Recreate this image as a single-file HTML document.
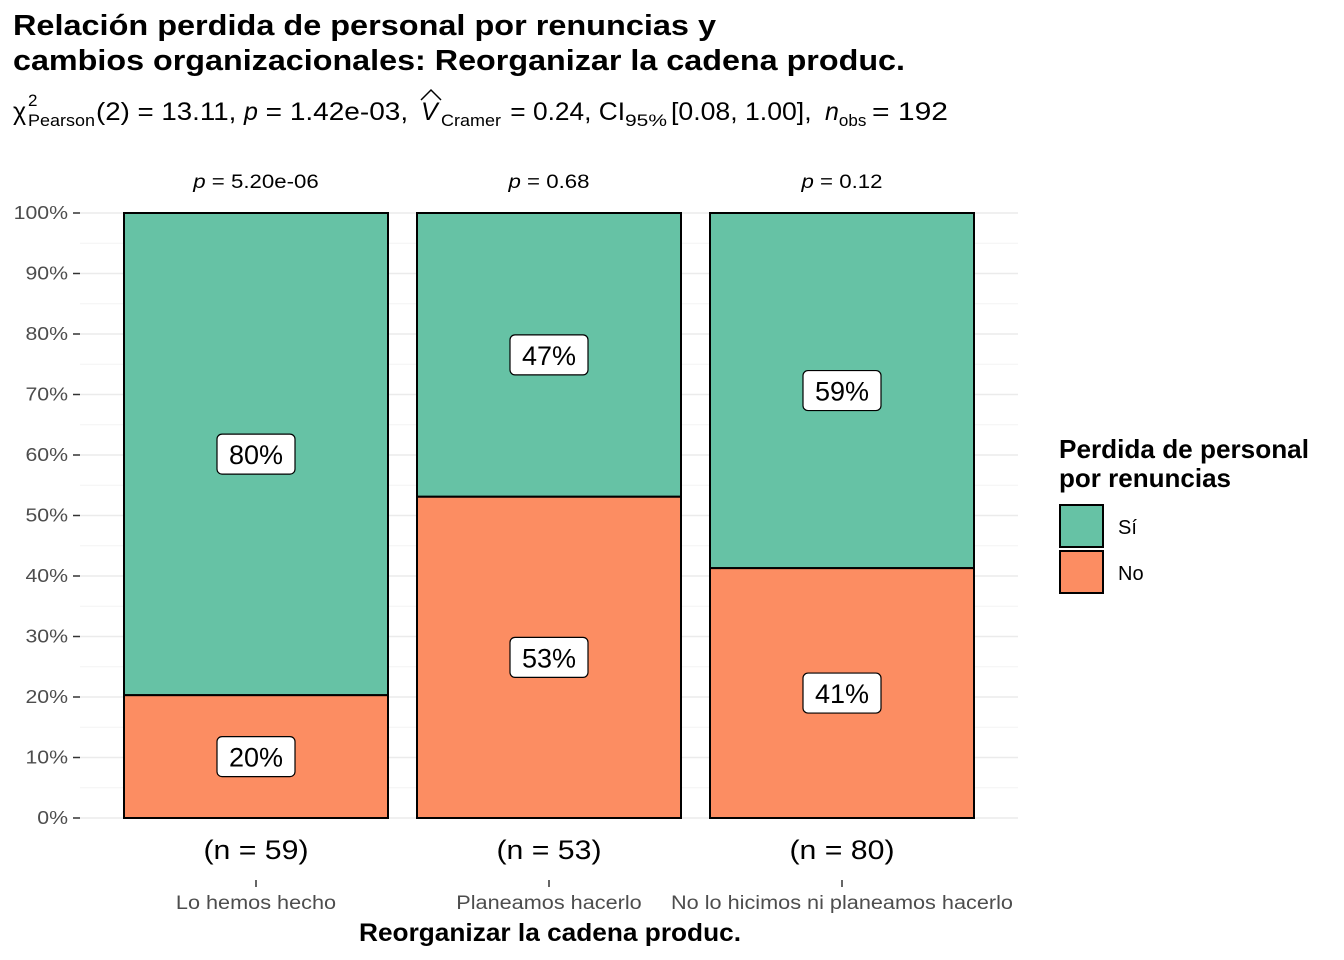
<!DOCTYPE html>
<html><head><meta charset="utf-8"><style>
body{margin:0;background:#fff;}
svg{display:block;font-family:"Liberation Sans",sans-serif;}
</style></head><body>
<svg id="c" width="1344" height="960">
<text x="13" y="35" font-size="29" font-weight="bold" textLength="703" lengthAdjust="spacingAndGlyphs">Relación perdida de personal por renuncias y</text>
<text x="13" y="70" font-size="29" font-weight="bold" textLength="892" lengthAdjust="spacingAndGlyphs">cambios organizacionales: Reorganizar la cadena produc.</text>
<text x="13" y="120" font-size="25">χ<tspan font-size="17" x="28" dy="-14">2</tspan><tspan font-size="17" x="28" dy="20" textLength="67" lengthAdjust="spacingAndGlyphs">Pearson</tspan><tspan x="96" dy="-6" textLength="148" lengthAdjust="spacingAndGlyphs">(2) = 13.11, </tspan><tspan font-style="italic">p</tspan><tspan textLength="158" lengthAdjust="spacingAndGlyphs"> = 1.42e-03, </tspan><tspan x="421" font-style="italic">V</tspan><tspan font-size="17" x="441" dy="6" textLength="60" lengthAdjust="spacingAndGlyphs">Cramer</tspan><tspan x="503" dy="-6" textLength="122" lengthAdjust="spacingAndGlyphs"> = 0.24, CI</tspan><tspan font-size="17" dy="6" textLength="42" lengthAdjust="spacingAndGlyphs">95%</tspan><tspan x="671" dy="-6" textLength="148" lengthAdjust="spacingAndGlyphs">[0.08, 1.00], </tspan><tspan x="825" font-style="italic">n</tspan><tspan font-size="17" dy="6">obs</tspan><tspan x="872" dy="-6" textLength="76" lengthAdjust="spacingAndGlyphs">= 192</tspan></text>
<path d="M421 100 L431 90 L441 100" fill="none" stroke="#000" stroke-width="1.5"/>
<g id="grid"></g><g id="bars"></g><g id="labels"></g><g id="axis"></g>
<text x="359" y="941" font-size="25" font-weight="bold" textLength="382" lengthAdjust="spacingAndGlyphs">Reorganizar la cadena produc.</text>
<text x="1059" y="458" font-size="26" font-weight="bold" textLength="250" lengthAdjust="spacingAndGlyphs">Perdida de personal</text>
<text x="1059" y="487" font-size="26" font-weight="bold" textLength="172" lengthAdjust="spacingAndGlyphs">por renuncias</text>
<rect x="1060" y="505" width="43" height="42" fill="#66C2A5" stroke="#000" stroke-width="2"/>
<rect x="1060" y="551" width="43" height="42" fill="#FC8D62" stroke="#000" stroke-width="2"/>
<text x="1118" y="534" font-size="20">Sí</text>
<text x="1118" y="580" font-size="20">No</text>
</svg>
<script>
const categories=["Lo hemos hecho","Planeamos hacerlo","No lo hicimos ni planeamos hacerlo"];
const noValues=[20.3,53.1,41.3];
const siValues=[79.7,46.9,58.7];
const noLabels=["20%","53%","41%"];
const siLabels=["80%","47%","59%"];
const counts=["(n = 59)","(n = 53)","(n = 80)"];
const pvals=["5.20e-06","0.68","0.12"];
const yTicks=[0,10,20,30,40,50,60,70,80,90,100];
const NS="http://www.w3.org/2000/svg";
const y=v=>818-v*6.05;
const xc=i=>256+i*293;
const bw=264;
function mk(tag,attrs,parent,text){const e=document.createElementNS(NS,tag);for(const k in attrs)e.setAttribute(k,attrs[k]);if(text!==undefined)e.textContent=text;document.getElementById(parent).appendChild(e);return e;}
function stretch(e,f){const w=e.getComputedTextLength();e.setAttribute('textLength',w*f);e.setAttribute('lengthAdjust','spacingAndGlyphs');}
for(let v=0;v<=100;v+=5){
 const g=mk('line',{x1:80,x2:1018,y1:y(v),y2:y(v),stroke:v%10?'#f3f3f3':'#ebebeb','stroke-width':v%10?1:1.5},'grid');
 
 
}
yTicks.forEach(v=>{
 const t=mk('text',{x:68,y:y(v)+6,'font-size':18,'text-anchor':'end',fill:'#4d4d4d'},'axis',v+'%');
 
 
 stretch(t,1.18);
 const l=mk('line',{x1:73,x2:80,y1:y(v),y2:y(v),stroke:'#333','stroke-width':1.5},'axis');
 
 
});
categories.forEach((c,i)=>{
 const x0=xc(i)-bw/2;
 const rs=mk('rect',{x:x0,y:y(100),width:bw,height:y(noValues[i])-y(100),fill:'#66C2A5',stroke:'#000','stroke-width':2},'bars');
 
 
 const rn=mk('rect',{x:x0,y:y(noValues[i]),width:bw,height:y(0)-y(noValues[i]),fill:'#FC8D62',stroke:'#000','stroke-width':2},'bars');
 
 
 [[noValues[i]/2,noLabels[i]],[noValues[i]+siValues[i]/2,siLabels[i]]].forEach(([v,s])=>{
  const b=mk('rect',{x:xc(i)-39,y:y(v)-20,width:78,height:40,rx:5,fill:'#fff',stroke:'#000','stroke-width':1.2},'labels');
  
  
  const t=mk('text',{x:xc(i),y:y(v)+10,'font-size':27,'text-anchor':'middle'},'labels',s);
  
  
 });
 const p=mk('text',{x:xc(i),y:188,'font-size':19,'text-anchor':'middle'},'labels');
 p.innerHTML='<tspan font-style="italic">p</tspan> = '+pvals[i];
 
 
 stretch(p,1.17);
 const n=mk('text',{x:xc(i),y:859,'font-size':27,'text-anchor':'middle'},'axis',counts[i]);
 
 
 stretch(n,1.12);
 const tk=mk('line',{x1:xc(i),x2:xc(i),y1:880,y2:887,stroke:'#333','stroke-width':1.5},'axis');
 
 
 const cl=mk('text',{x:xc(i),y:909,'font-size':19,'text-anchor':'middle',fill:'#4d4d4d'},'axis',c);
 
 
 stretch(cl,1.14);
});
</script>
</body></html>
